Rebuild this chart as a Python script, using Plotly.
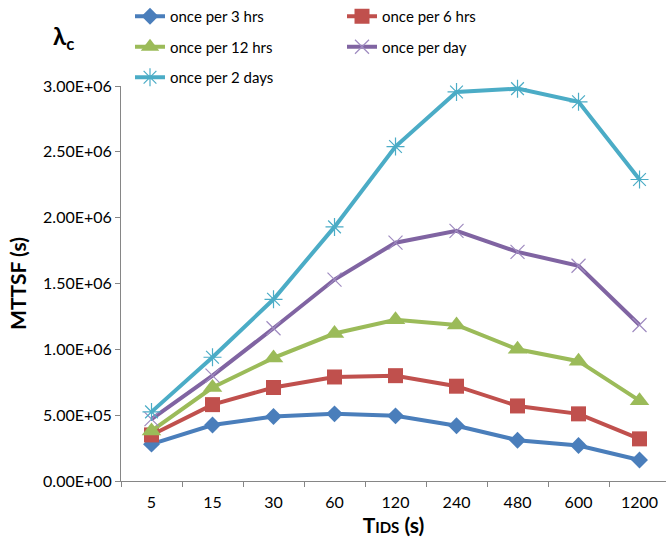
import plotly.graph_objects as go

categories = ["5", "15", "30", "60", "120", "240", "480", "600", "1200"]

once_3hrs = [0.28e6, 0.425e6, 0.49e6, 0.51e6, 0.495e6, 0.42e6, 0.31e6, 0.27e6, 0.16e6]
once_6hrs = [0.35e6, 0.58e6, 0.71e6, 0.79e6, 0.80e6, 0.72e6, 0.57e6, 0.51e6, 0.32e6]
once_12hrs = [0.38e6, 0.71e6, 0.935e6, 1.12e6, 1.225e6, 1.185e6, 1.0e6, 0.91e6, 0.61e6]
once_day = [0.47e6, 0.80e6, 1.16e6, 1.53e6, 1.81e6, 1.90e6, 1.74e6, 1.635e6, 1.185e6]
once_2days = [0.525e6, 0.94e6, 1.38e6, 1.93e6, 2.54e6, 2.955e6, 2.98e6, 2.88e6, 2.29e6]

y_tickvals = [0, 5e5, 1e6, 1.5e6, 2e6, 2.5e6, 3e6]
y_ticktext = ["0.00E+00", "5.00E+05", "1.00E+06", "1.50E+06", "2.00E+06", "2.50E+06", "3.00E+06"]

FONT = "Lato, 'Open Sans', sans-serif"

# plot area in pixels
L, T, B = 121, 86, 481
W = 666 - L
H = B - T

def px_x(x):
    return (x - L) / W

def px_y(y):
    return (B - y) / H

series = [
    ("once per 3 hrs", once_3hrs, "#4A7EBB", dict(symbol="diamond", size=13), "legend"),
    ("once per 6 hrs", once_6hrs, "#C0504D", dict(symbol="square", size=15), "legend2"),
    ("once per 12 hrs", once_12hrs, "#9BBB59", dict(symbol="triangle-up", size=17), "legend"),
    ("once per day", once_day, "#8064A2",
     dict(symbol="x-thin", size=14, line=dict(width=1.2, color="#9F8BC0")), "legend2"),
    ("once per 2 days", once_2days, "#4BACC6",
     dict(symbol="asterisk-open", size=15, line=dict(width=1.2, color="#4BACC6")), "legend"),
]

fig = go.Figure()
for i, (name, vals, color, marker, leg) in enumerate(series):
    m = dict(color=color)
    m.update(marker)
    fig.add_trace(go.Scatter(
        x=categories, y=vals, name=name, mode="lines+markers",
        line=dict(color=color, width=4), marker=m, cliponaxis=False,
        legend=leg, legendgroup=f"g{i}",
    ))

legend_common = dict(
    font=dict(family=FONT, size=15, color="#000000"),
    bgcolor="rgba(0,0,0,0)", tracegroupgap=8, orientation="v",
    xanchor="left", yanchor="top", itemsizing="trace",
)

fig.update_layout(
    width=666, height=540,
    margin=dict(l=L, r=0, t=T, b=540 - B, autoexpand=False),
    paper_bgcolor="white", plot_bgcolor="white",
    font=dict(family=FONT, size=15, color="#000000"),
    legend=dict(x=px_x(130), y=px_y(0), **legend_common),
    legend2=dict(x=px_x(342), y=px_y(0), **legend_common),
    xaxis=dict(
        type="category", range=[-0.5, 8.434],
        showline=True, linecolor="#868686", linewidth=1,
        ticks="outside", tickson="boundaries", ticklen=5, tickcolor="#868686",
        showgrid=False, zeroline=False, ticklabelstandoff=7,
        tickfont=dict(family=FONT, size=16, color="#000000"),
        title=dict(text="<b>T<span style='font-size:15px'>IDS</span> (s)</b>",
                   font=dict(family=FONT, size=21, color="#000000"), standoff=8),
    ),
    yaxis=dict(
        range=[0, 3e6], tickvals=y_tickvals, ticktext=y_ticktext,
        showline=True, linecolor="#868686", linewidth=1,
        ticks="outside", ticklen=5, tickcolor="#868686",
        showgrid=False, zeroline=False,
        tickfont=dict(family=FONT, size=16, color="#000000"),
        title=dict(text="<b>MTTSF (s)</b>",
                   font=dict(family=FONT, size=21, color="#000000"), standoff=10),
    ),
    annotations=[dict(
        text="<b>λ<sub>c</sub></b>", xref="paper", yref="paper",
        x=px_x(51), y=px_y(37), xanchor="left", yanchor="middle",
        showarrow=False, font=dict(family=FONT, size=24, color="#000000"),
    )],
)

fig.write_html("out.html")
